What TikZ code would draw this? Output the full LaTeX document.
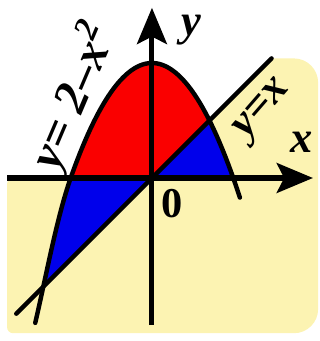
\documentclass[tikz,border=0pt]{standalone}
\usepackage{fontspec}
\setmainfont{Liberation Serif}
\usetikzlibrary{arrows.meta}
\definecolor{paper}{RGB}{252,243,178}
\definecolor{regred}{RGB}{250,0,0}
\definecolor{regblue}{RGB}{0,0,235}

\begin{document}
\begin{tikzpicture}[
	axis/.style={line width=2.5pt, -{Stealth[length=6.3mm, width=5.2mm, inset=1.3mm]}},
	curve/.style={line width=2.2pt, line cap=round},
	lab/.style={font=\fontsize{22}{22}\selectfont\bfseries\itshape, inner sep=0pt}]
	\useasboundingbox (-2.643,-2.835) rectangle (2.922,3.096);
	\coordinate (O) at (0,0);
	\coordinate (xL) at (-2.52,0);
	\coordinate (xR) at (2.80,0);
	\coordinate (yB) at (0,-2.56);
	\coordinate (yT) at (0,2.96);
	\coordinate (lineLow) at (-2.36,-2.36);
	\coordinate (lineHigh) at (2.08,2.08);
	\fill[paper] (O) -- (lineHigh) [rounded corners=12pt] -- (2.89,2.08) -- (2.89,-2.70) [rounded corners=3pt] -- (-2.52,-2.70) -- (xL) [sharp corners] -- cycle;
	\fill[regred] plot[domain=-1.4142:1, samples=40] (\x,{2-\x*\x}) -- (O) -- cycle;
	\fill[regblue] (O) -- plot[domain=1:1.4142, samples=20] (\x,{2-\x*\x}) -- cycle;
	\begin{scope}
		\clip (O) -- (-3,-3) -- (-3,0) -- cycle;
		\fill[regblue] (O) -- (-1.4142,0) .. controls (-1.66,-0.71) and (-1.83,-1.66) .. (-2.03,-2.52) -- cycle;
	\end{scope}
	\draw[curve] plot[domain=1.53:-1.4142, samples=60] (\x,{2-\x*\x}) .. controls (-1.66,-0.71) and (-1.83,-1.66) .. (-2.03,-2.52);
	\draw[curve] (lineLow) -- (lineHigh);
	\draw[axis] (xL) -- (xR);
	\draw[axis] (yB) -- (yT);
	\node[lab] (ylab) at (0.68,2.58) {y};
	\node[lab] (xlab) at (2.61,0.62) {x};
	\node[font=\fontsize{21}{21}\selectfont\bfseries] (zero) at (0.35,-0.44) {0};
	\node[lab, font=\fontsize{24}{24}\selectfont\bfseries\itshape, rotate=67] (parlab) at (-1.36,1.42) {y= 2–x\textsuperscript{2}};
	\node[lab, rotate=49] (linelab) at (1.95,1.17) {y=x};
\end{tikzpicture}
\end{document}
